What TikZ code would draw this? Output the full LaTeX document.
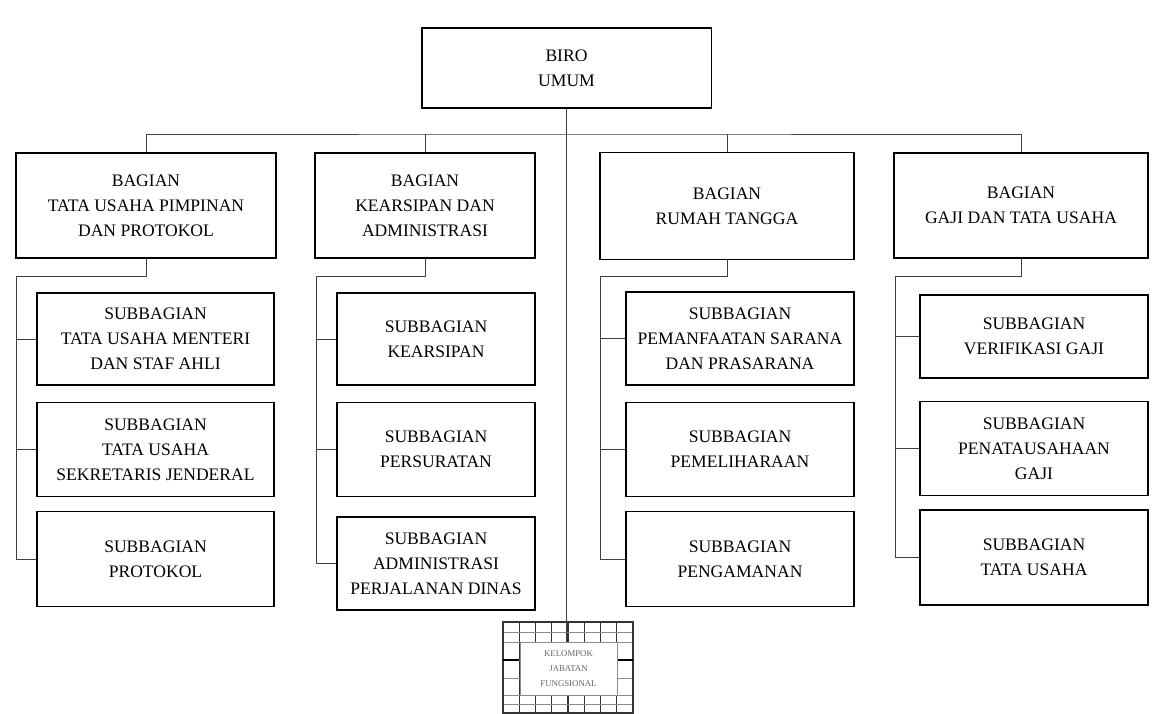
\documentclass[tikz,border=0pt]{standalone}
\usepackage{fontspec}
\setmainfont{Liberation Serif}
\usepackage{tikz}
\usetikzlibrary{calc,positioning}

\begin{document}
\begin{tikzpicture}[x=0.02cm,y=-0.02cm,
  box/.style={draw,line width=1.1pt,align=center,inner sep=0pt,font=\fontsize{10}{14.2}\selectfont},
  conn/.style={line width=0.55pt,black!75},
  kgrid/.style={line width=0.4pt,black!45},
  kline/.style={line width=0.7pt,black!80},
  kjftext/.style={fill=white,draw=black!45,line width=0.4pt,align=center,inner sep=0pt,text=black!60,font=\fontsize{5}{8.5}\selectfont}]
\useasboundingbox (0,0) rectangle (1158,713);
\fill[white] (0,0) rectangle (1158,713);
\node[box,minimum width=5.8cm,minimum height=1.6cm] (biro) at (566.5,68) {BIRO\\UMUM};
\node[box,minimum width=5.2cm,minimum height=2.1cm] (b1) at (146,205.5) {BAGIAN\\TATA USAHA PIMPINAN\\DAN PROTOKOL};
\node[box,minimum width=4.4cm,minimum height=2.1cm] (b2) at (425,205.5) {BAGIAN\\KEARSIPAN DAN\\ADMINISTRASI};
\node[box,minimum width=5.08cm,minimum height=2.14cm] (b3) at (727,206) {BAGIAN\\RUMAH TANGGA};
\node[box,minimum width=5.08cm,minimum height=2.1cm] (b4) at (1021,205.5) {BAGIAN\\GAJI DAN TATA USAHA};
\node[box,minimum width=4.74cm,minimum height=1.84cm] (s11) at (155.5,339) {SUBBAGIAN\\TATA USAHA MENTERI\\DAN STAF AHLI};
\node[box,minimum width=4.74cm,minimum height=1.88cm] (s12) at (155.5,449.5) {SUBBAGIAN\\TATA USAHA\\SEKRETARIS JENDERAL};
\node[box,minimum width=4.74cm,minimum height=1.9cm] (s13) at (155.5,559) {SUBBAGIAN\\PROTOKOL};
\node[box,minimum width=3.96cm,minimum height=1.84cm] (s21) at (436,339) {SUBBAGIAN\\KEARSIPAN};
\node[box,minimum width=3.96cm,minimum height=1.88cm] (s22) at (436,449.5) {SUBBAGIAN\\PERSURATAN};
\node[box,minimum width=3.96cm,minimum height=1.86cm] (s23) at (436,563.5) {SUBBAGIAN\\ADMINISTRASI\\PERJALANAN DINAS};
\node[box,minimum width=4.56cm,minimum height=1.86cm] (s31) at (740,338.5) {SUBBAGIAN\\PEMANFAATAN SARANA\\DAN PRASARANA};
\node[box,minimum width=4.56cm,minimum height=1.88cm] (s32) at (740,449.5) {SUBBAGIAN\\PEMELIHARAAN};
\node[box,minimum width=4.56cm,minimum height=1.9cm] (s33) at (740,559) {SUBBAGIAN\\PENGAMANAN};
\node[box,minimum width=4.56cm,minimum height=1.66cm] (s41) at (1034,336.5) {SUBBAGIAN\\VERIFIKASI GAJI};
\node[box,minimum width=4.56cm,minimum height=1.88cm] (s42) at (1034,448.5) {SUBBAGIAN\\PENATAUSAHAAN\\GAJI};
\node[box,minimum width=4.56cm,minimum height=1.9cm] (s43) at (1034,557.5) {SUBBAGIAN\\TATA USAHA};
\foreach \x in {503,519.25,...,634} \draw[kline] (\x,622) -- (\x,713);
\foreach \y in {622,632,642,660,678,695,704,713} \draw[kgrid] (503,\y) -- (633,\y);
\draw[kline] (503,622) rectangle (633,713);
\draw[line width=1pt] (503,660) -- (519,660) (617,660) -- (633,660);
\node[kjftext,minimum width=1.94cm,minimum height=1.06cm] (kjf) at (568.5,668.5) {KELOMPOK\\JABATAN\\FUNGSIONAL};
\coordinate (bus) at (566,134);
\coordinate (v1) at (16,276);
\coordinate (v2) at (316,276);
\coordinate (v3) at (600,276);
\coordinate (v4) at (895,276);
\draw[conn] (biro.south) -- (biro.south |- kjf.north);
\draw[conn] (b1.north) |- (bus) -| (b4.north);
\draw[conn] (b2.north) -- (b2.north |- bus);
\draw[conn] (b3.north) -- (b3.north |- bus);
\draw[conn] (b1.south) |- (v1) |- (s13.west);
\draw[conn] (b2.south) |- (v2) |- (s23.west);
\draw[conn] (b3.south) |- (v3) |- (s33.west);
\draw[conn] (b4.south) |- (v4) |- (s43.west);
\draw[conn] (s11.west) -- (s11.west -| v1);
\draw[conn] (s12.west) -- (s12.west -| v1);
\draw[conn] (s21.west) -- (s21.west -| v2);
\draw[conn] (s22.west) -- (s22.west -| v2);
\draw[conn] (s31.west) -- (s31.west -| v3);
\draw[conn] (s32.west) -- (s32.west -| v3);
\draw[conn] (s41.west) -- (s41.west -| v4);
\draw[conn] (s42.west) -- (s42.west -| v4);
\end{tikzpicture}
\end{document}
